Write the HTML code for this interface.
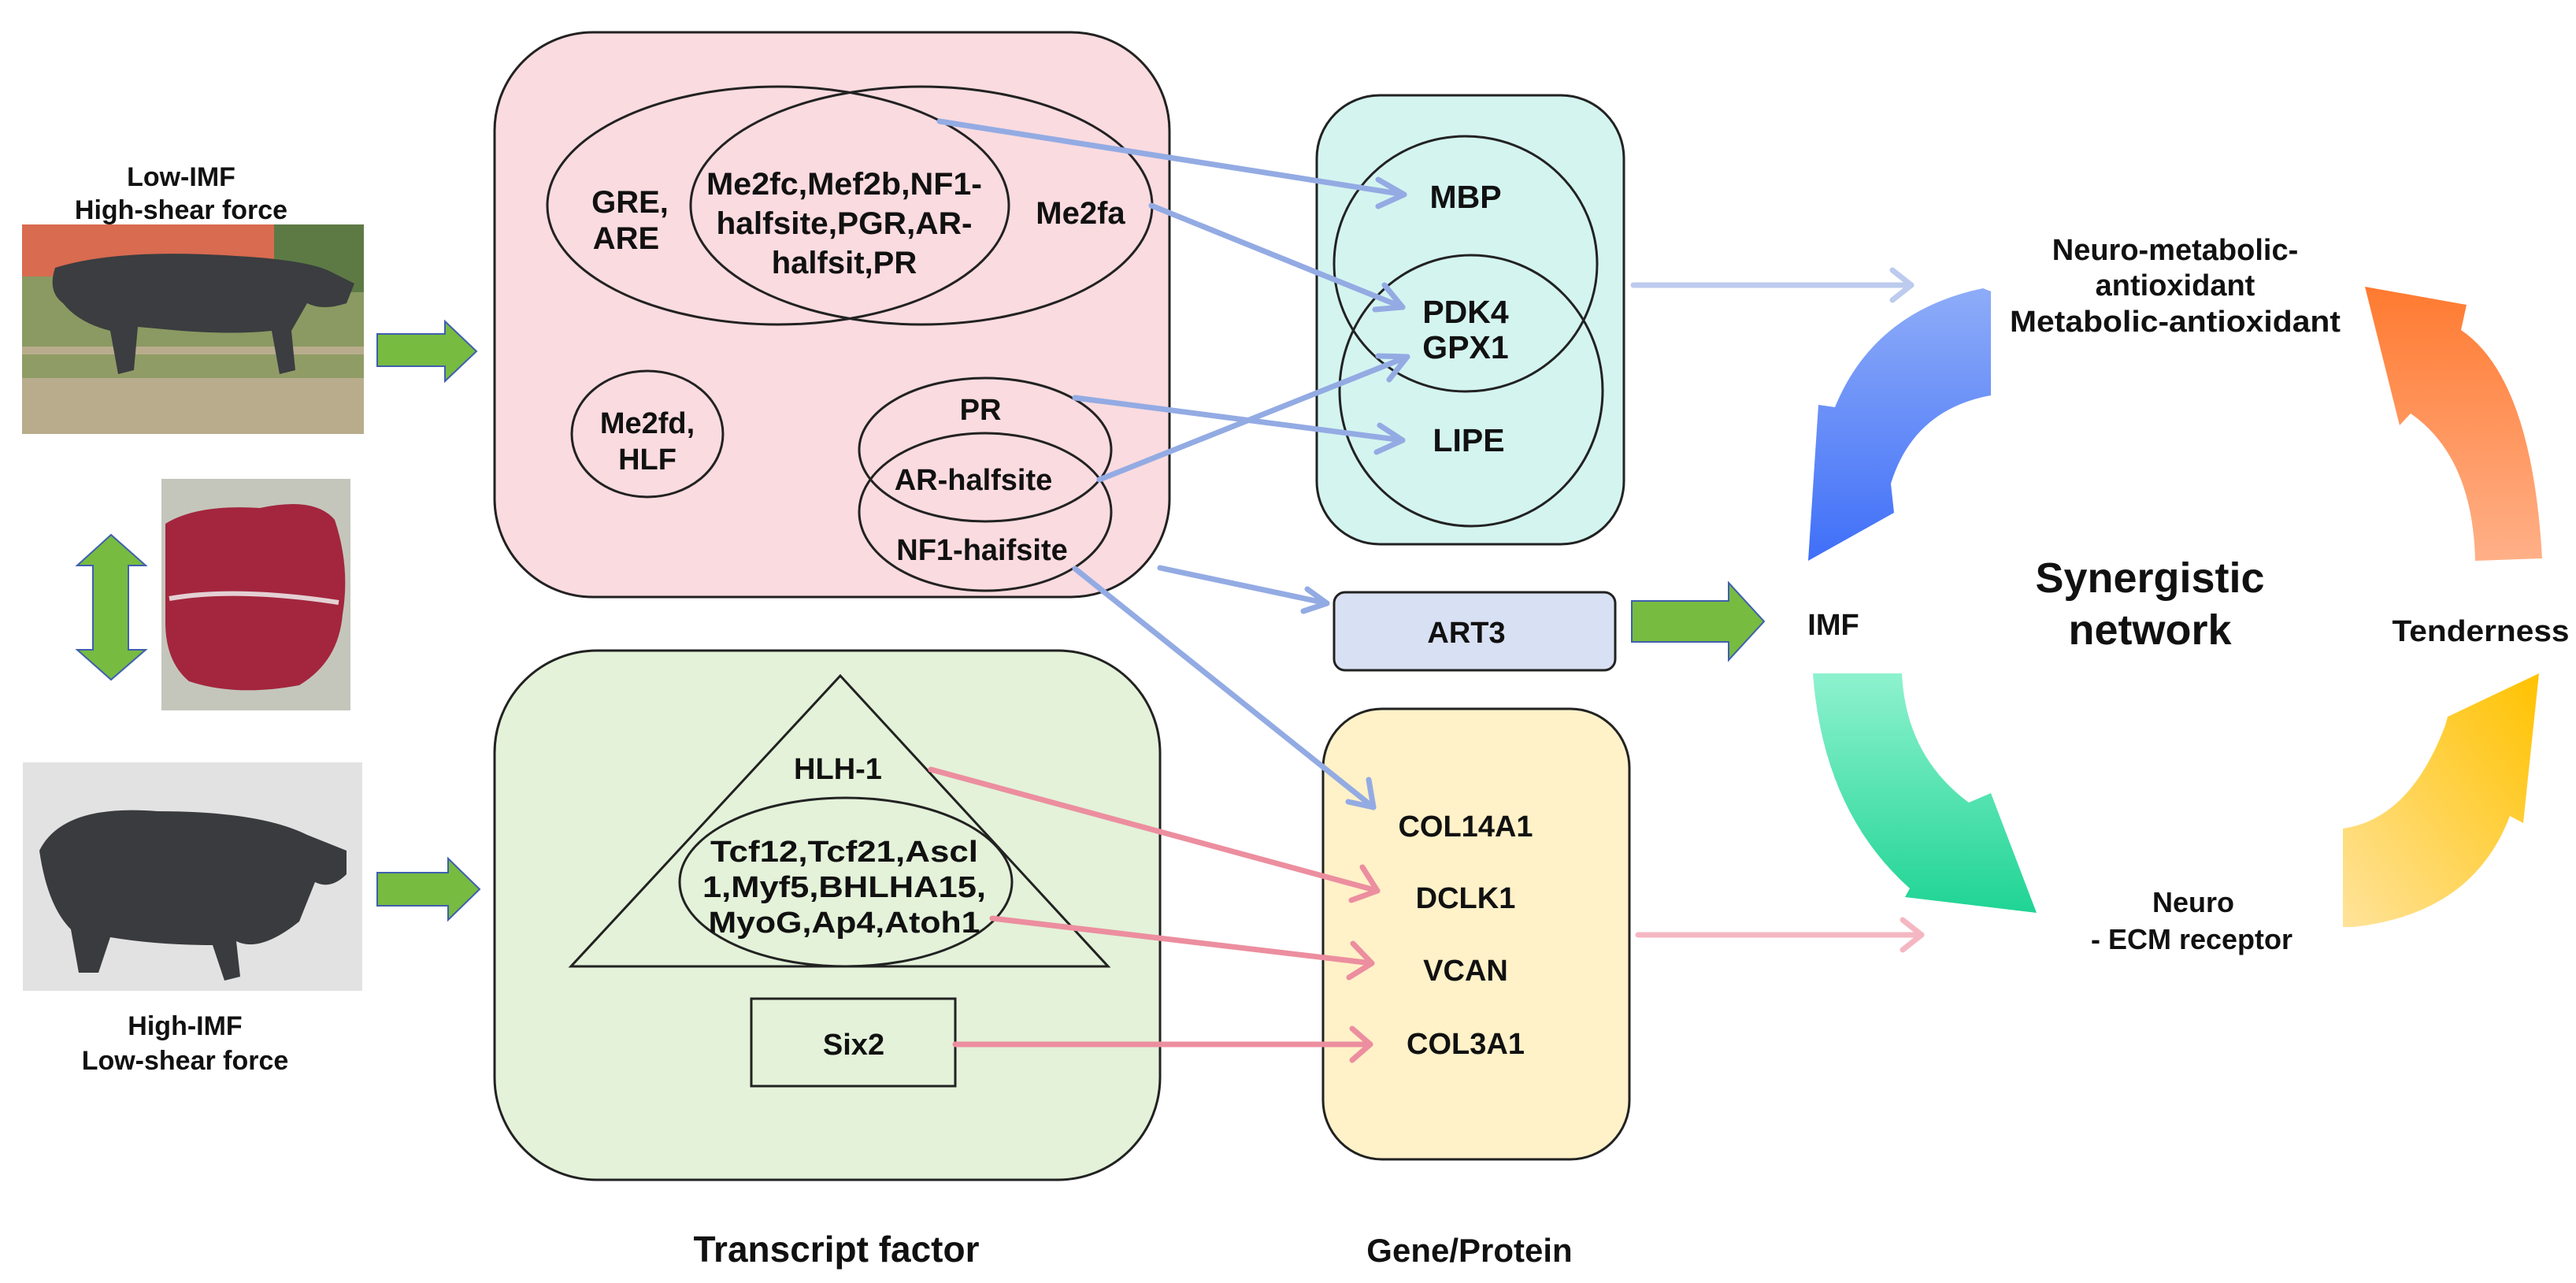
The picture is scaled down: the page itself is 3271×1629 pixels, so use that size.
<!DOCTYPE html>
<html><head><meta charset="utf-8"><style>
html,body{margin:0;padding:0;background:#fff;}
svg{display:block;}
text{font-family:"Liberation Sans",Arial,sans-serif;font-weight:bold;fill:#111;text-anchor:middle;}
</style></head><body>
<svg width="3271" height="1629" viewBox="0 0 3271 1629" xmlns="http://www.w3.org/2000/svg">
<defs>
<linearGradient id="gb" x1="0" y1="0" x2="0" y2="1"><stop offset="0" stop-color="#8eacf8"/><stop offset="1" stop-color="#3f6ff8"/></linearGradient>
<linearGradient id="go" x1="0" y1="0" x2="0" y2="1"><stop offset="0" stop-color="#ff7a30"/><stop offset="1" stop-color="#ffb088"/></linearGradient>
<linearGradient id="gg" x1="0" y1="0" x2="0" y2="1"><stop offset="0" stop-color="#8ef2cf"/><stop offset="1" stop-color="#1fd494"/></linearGradient>
<linearGradient id="gy" x1="1" y1="0" x2="0" y2="1"><stop offset="0" stop-color="#ffc200"/><stop offset="1" stop-color="#ffe39a"/></linearGradient>
</defs>

<!-- Left labels -->
<text x="230" y="236" font-size="34">Low-IMF</text>
<text x="230" y="278" font-size="34">High-shear force</text>
<text x="235" y="1314" font-size="34">High-IMF</text>
<text x="235" y="1358" font-size="34">Low-shear force</text>

<!-- Pig photo 1 -->
<rect x="28" y="285" width="434" height="266" fill="#8a9a62"/>
<rect x="28" y="285" width="320" height="66" fill="#d86b50"/>
<rect x="348" y="285" width="114" height="86" fill="#5d7a45"/>
<rect x="28" y="440" width="434" height="111" fill="#b8ac8c"/>
<rect x="28" y="450" width="434" height="30" fill="#7f9656" opacity="0.7"/>
<path d="M70 340 Q150 315 300 325 Q390 330 420 345 L450 360 L440 385 Q410 395 390 385 L370 420 L375 470 L355 475 L345 420 Q300 425 230 420 L175 415 L170 470 L150 475 L140 420 Q100 410 80 385 Q60 370 70 340 Z" fill="#3b3d40"/>

<!-- Meat photo -->
<rect x="205" y="608" width="240" height="294" fill="#c4c6bb"/>
<path d="M210 665 Q250 640 330 645 Q400 630 425 660 Q445 720 435 780 Q430 840 380 870 Q300 885 240 865 Q210 840 210 790 Z" fill="#a3263e"/>
<path d="M215 760 Q300 745 430 765" stroke="#e4d0d4" stroke-width="6" fill="none"/>

<!-- Double arrow -->
<polygon points="141,679 185,718 163,718 163,825 185,825 141,863 98,825 118,825 118,718 98,718" fill="#77bb41" stroke="#3f5fae" stroke-width="2"/>

<!-- Pig photo 2 -->
<rect x="29" y="968" width="431" height="290" fill="#e2e2e2"/>
<path d="M50 1080 Q80 1020 200 1030 Q330 1030 390 1060 L440 1080 L440 1110 Q420 1130 400 1120 L380 1170 Q330 1210 300 1195 L305 1240 L285 1245 L270 1200 Q200 1200 140 1190 L125 1235 L100 1235 L90 1180 Q60 1150 50 1080 Z" fill="#3a3b3e"/>

<!-- Green block arrows -->
<polygon points="479,424 565,424 565,408 605,446 565,484 565,465 479,465" fill="#77bb41" stroke="#3f5fae" stroke-width="2"/>
<polygon points="479,1108 569,1108 569,1090 609,1129 569,1168 569,1150 479,1150" fill="#77bb41" stroke="#3f5fae" stroke-width="2"/>
<polygon points="2072,763 2195,763 2195,740 2240,789 2195,838 2195,815 2072,815" fill="#77bb41" stroke="#3f5fae" stroke-width="2"/>

<!-- Pink box -->
<rect x="628" y="41" width="857" height="717" rx="125" fill="#fadbe0" stroke="#222" stroke-width="3"/>
<ellipse cx="988" cy="261" rx="293" ry="151" fill="none" stroke="#222" stroke-width="3"/>
<ellipse cx="1170" cy="261" rx="293" ry="151" fill="none" stroke="#222" stroke-width="3"/>
<text x="800" y="270" font-size="40">GRE,</text>
<text x="795" y="316" font-size="40">ARE</text>
<text x="1072" y="247" font-size="40" textLength="350" lengthAdjust="spacingAndGlyphs">Me2fc,Mef2b,NF1-</text>
<text x="1072" y="297" font-size="40" textLength="325" lengthAdjust="spacingAndGlyphs">halfsite,PGR,AR-</text>
<text x="1072" y="347" font-size="40">halfsit,PR</text>
<text x="1372" y="284" font-size="40">Me2fa</text>
<ellipse cx="822" cy="551" rx="96" ry="80" fill="none" stroke="#222" stroke-width="3"/>
<text x="822" y="550" font-size="38">Me2fd,</text>
<text x="822" y="596" font-size="38">HLF</text>
<ellipse cx="1251" cy="571" rx="160" ry="91" fill="none" stroke="#222" stroke-width="3"/>
<ellipse cx="1251" cy="650" rx="160" ry="100" fill="none" stroke="#222" stroke-width="3"/>
<text x="1245" y="533" font-size="38">PR</text>
<text x="1236" y="622" font-size="38">AR-halfsite</text>
<text x="1247" y="711" font-size="38">NF1-haifsite</text>

<!-- Teal box -->
<rect x="1672" y="121" width="390" height="570" rx="80" fill="#d4f4f0" stroke="#222" stroke-width="3"/>
<ellipse cx="1861" cy="335" rx="167" ry="162" fill="none" stroke="#222" stroke-width="3"/>
<ellipse cx="1868" cy="496" rx="167" ry="172" fill="none" stroke="#222" stroke-width="3"/>
<text x="1861" y="264" font-size="41">MBP</text>
<text x="1861" y="410" font-size="41">PDK4</text>
<text x="1861" y="455" font-size="41">GPX1</text>
<text x="1865" y="573" font-size="41">LIPE</text>

<!-- ART3 -->
<rect x="1694" y="752" width="357" height="99" rx="14" fill="#d8e0f3" stroke="#222" stroke-width="3"/>
<text x="1862" y="816" font-size="38">ART3</text>

<!-- Green box -->
<rect x="628" y="826" width="845" height="672" rx="130" fill="#e3f2d9" stroke="#222" stroke-width="3"/>
<polygon points="1067,858 1407,1227 725,1227" fill="none" stroke="#222" stroke-width="3"/>
<ellipse cx="1074" cy="1120" rx="211" ry="107" fill="none" stroke="#222" stroke-width="3"/>
<text x="1064" y="989" font-size="38">HLH-1</text>
<text x="1072" y="1094" font-size="38" textLength="340" lengthAdjust="spacingAndGlyphs">Tcf12,Tcf21,Ascl</text>
<text x="1072" y="1139" font-size="38" textLength="360" lengthAdjust="spacingAndGlyphs">1,Myf5,BHLHA15,</text>
<text x="1072" y="1184" font-size="38" textLength="345" lengthAdjust="spacingAndGlyphs">MyoG,Ap4,Atoh1</text>
<rect x="954" y="1268" width="259" height="111" fill="none" stroke="#222" stroke-width="3"/>
<text x="1084" y="1339" font-size="38">Six2</text>

<!-- Yellow box -->
<rect x="1680" y="900" width="389" height="572" rx="75" fill="#fff1c8" stroke="#222" stroke-width="3"/>
<text x="1861" y="1062" font-size="38">COL14A1</text>
<text x="1861" y="1153" font-size="38">DCLK1</text>
<text x="1861" y="1245" font-size="38">VCAN</text>
<text x="1861" y="1338" font-size="38">COL3A1</text>

<!-- bottom labels -->
<text x="1062" y="1602" font-size="46">Transcript factor</text>
<text x="1866" y="1602" font-size="42">Gene/Protein</text>

<!-- Blue connectors -->
<g stroke="#93abe3" stroke-width="7" fill="none" stroke-linecap="round" stroke-linejoin="round">
<line x1="1193" y1="154" x2="1783" y2="247"/><polyline points="1750,228 1783,247 1750,262"/>
<line x1="1462" y1="261" x2="1781" y2="390"/><polyline points="1758,362 1781,390 1746,393"/>
<line x1="1365" y1="505" x2="1781" y2="559"/><polyline points="1752,540 1781,559 1748,574"/>
<line x1="1396" y1="609" x2="1787" y2="453"/><polyline points="1750,452 1787,453 1764,482"/>
<line x1="1473" y1="721" x2="1685" y2="766"/><polyline points="1660,748 1685,766 1655,776"/>
<line x1="1365" y1="722" x2="1744" y2="1025"/><polyline points="1738,990 1744,1025 1712,1018"/>
<line x1="2074" y1="362" x2="2427" y2="362" stroke="#bccbee"/><polyline points="2403,343 2427,362 2403,381" stroke="#bccbee"/>
</g>
<!-- Pink connectors -->
<g stroke="#ec8e9f" stroke-width="7" fill="none" stroke-linecap="round" stroke-linejoin="round">
<line x1="1182" y1="977" x2="1749" y2="1131"/><polyline points="1730,1101 1749,1131 1716,1143"/>
<line x1="1260" y1="1166" x2="1742" y2="1223"/><polyline points="1718,1198 1742,1223 1713,1241"/>
<line x1="1213" y1="1326" x2="1740" y2="1326"/><polyline points="1717,1306 1740,1326 1717,1346"/>
<line x1="2080" y1="1187" x2="2440" y2="1187" stroke="#f4b7c2"/><polyline points="2416,1168 2440,1187 2416,1206" stroke="#f4b7c2"/>
</g>

<!-- Cycle arrows -->
<path d="M2518,366 Q2380,395 2330,517 L2309,514 L2296,712 L2405,651 L2401,614 Q2430,520 2528,502 L2528,370 Z" fill="url(#gb)"/>
<path d="M3003,364 L3132,387 L3125,419 Q3215,480 3228,709 L3143,712 Q3140,580 3061,525 L3047,540 Z" fill="url(#go)"/>
<path d="M2302,855 L2415,855 Q2420,960 2500,1019 L2528,1007 L2586,1159 L2419,1139 L2425,1128 Q2315,1030 2302,855 Z" fill="url(#gg)"/>
<path d="M3224,855 L3204,1045 L3187,1036 Q3140,1160 2989,1177 L2975,1177 L2975,1052 Q3060,1040 3105,921 L3108,910 Z" fill="url(#gy)"/>

<!-- Cycle labels -->
<text x="2762" y="330" font-size="38">Neuro-metabolic-</text>
<text x="2762" y="375" font-size="38">antioxidant</text>
<text x="2762" y="421" font-size="38" textLength="420" lengthAdjust="spacingAndGlyphs">Metabolic-antioxidant</text>
<text x="2730" y="752" font-size="54">Synergistic</text>
<text x="2730" y="818" font-size="54">network</text>
<text x="2328" y="806" font-size="38">IMF</text>
<text x="3150" y="814" font-size="38" textLength="225" lengthAdjust="spacingAndGlyphs">Tenderness</text>
<text x="2785" y="1158" font-size="36">Neuro</text>
<text x="2783" y="1205" font-size="36">- ECM  receptor</text>
</svg>
</body></html>
